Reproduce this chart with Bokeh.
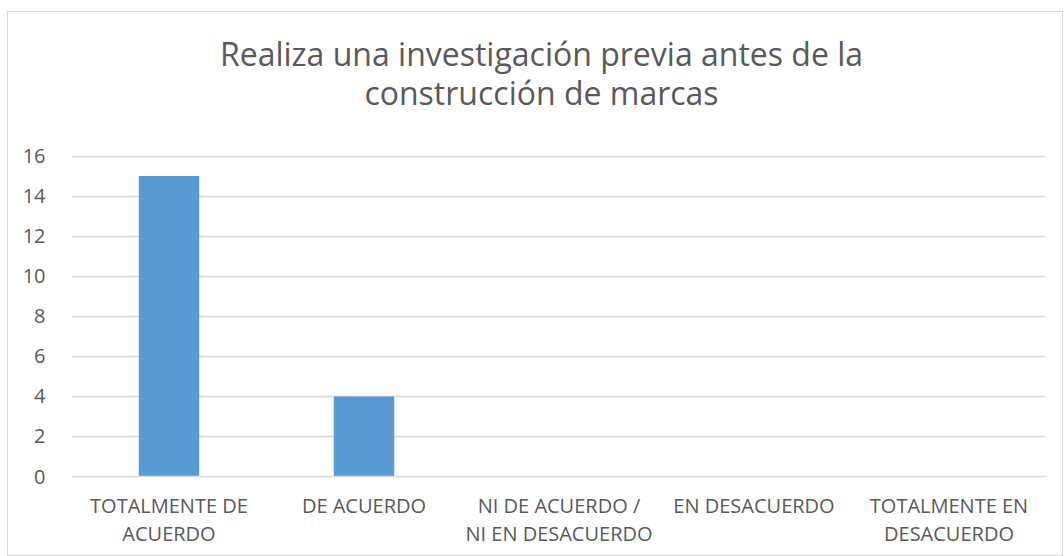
from bokeh.plotting import figure
from bokeh.models import ColumnDataSource, Range1d, FixedTicker, Label
from bokeh.embed import file_html
from bokeh.resources import INLINE

categories = ["TOTALMENTE DE\nACUERDO", "DE ACUERDO", "NI DE ACUERDO /\nNI EN DESACUERDO",
              "EN DESACUERDO", "TOTALMENTE EN\nDESACUERDO"]
values = [15, 4, 0, 0, 0]
y_ticks = [0, 2, 4, 6, 8, 10, 12, 14, 16]
title_lines = ["Realiza una investigación previa antes de la", "construcción de marcas"]

FONT = "Open Sans"
TXT = "#595959"
GRID = "#d9d9d9"

src = ColumnDataSource(dict(cat=categories, val=values))

# the frame reaches the top of the chart so that the title (drawn inside it) is visible;
# the value axis keeps ~20 px per unit, ticks only 0..16
p = figure(x_range=categories, y_range=Range1d(0, 23.17), width=1056, height=545,
           output_backend="svg", toolbar_location=None, title=None,
           min_border_left=63, min_border_right=18, min_border_top=0, min_border_bottom=81,
           margin=(11, 1, 0, 7), styles={"border": "1px solid #d9d9d9", "box-sizing": "border-box"})

p.vbar(x="cat", top="val", width=0.31, source=src, fill_color="#5b9bd5", line_color=None)

# title, two centred lines placed in screen space (relative to the plot frame)
for txt, yy in zip(title_lines, [423, 384]):
    p.add_layout(Label(x=470, y=yy, x_units="screen", y_units="screen", text=txt,
                       text_align="center", text_baseline="alphabetic", text_font=FONT,
                       text_font_size="32px", text_color=TXT))

p.outline_line_color = None
p.background_fill_color = "white"
p.border_fill_color = "white"

p.xgrid.grid_line_color = None
p.ygrid.grid_line_color = GRID
p.ygrid.grid_line_width = 1.3
p.yaxis.ticker = FixedTicker(ticks=y_ticks)

p.yaxis.axis_line_color = None
p.yaxis.major_tick_line_color = None
p.yaxis.minor_tick_line_color = None
p.yaxis.major_label_text_font = FONT
p.yaxis.major_label_text_font_size = "20px"
p.yaxis.major_label_text_color = TXT
p.yaxis.major_label_standoff = 20

p.xaxis.axis_line_color = GRID
p.xaxis.axis_line_width = 1.3
p.xaxis.major_tick_line_color = None
p.xaxis.minor_tick_line_color = None
p.xaxis.major_label_text_font = FONT
p.xaxis.major_label_text_font_size = "20px"
p.xaxis.major_label_text_color = TXT
p.xaxis.major_label_text_line_height = 1.05
p.xaxis.major_label_standoff = 9
p.x_range.range_padding = 0

open("out.html", "w").write(file_html(p, INLINE))
